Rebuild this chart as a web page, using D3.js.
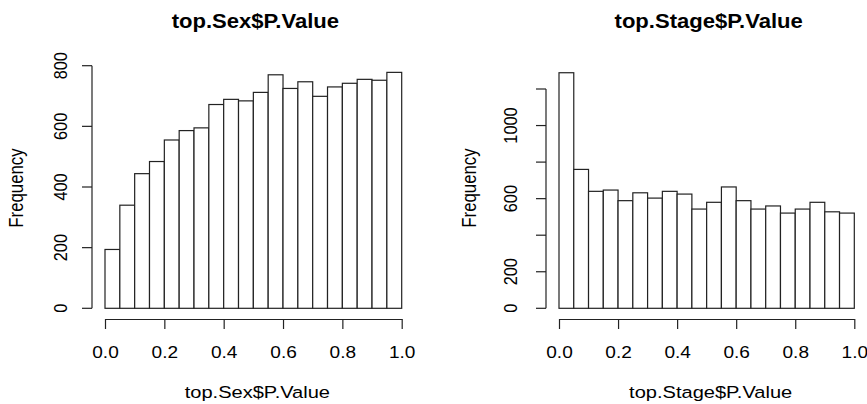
<!DOCTYPE html>
<html>
<head>
<meta charset="utf-8">
<script src="https://cdn.jsdelivr.net/npm/d3@7/dist/d3.min.js"></script>
<style>
  html, body { margin: 0; padding: 0; background: #fff; }
  svg { display: block; }
  text { font-family: "Liberation Sans", Arial, sans-serif; fill: #000; }
</style>
</head>
<body>
<svg id="chart" width="867" height="404"></svg>
<script>
// ---- data ----
const binEdges = [0.00,0.05,0.10,0.15,0.20,0.25,0.30,0.35,0.40,0.45,0.50,0.55,0.60,0.65,0.70,0.75,0.80,0.85,0.90,0.95,1.00];
const sexCounts = [194,340,444,484,555,586,595,672,689,684,712,770,725,747,699,730,742,755,752,778];
const stageCounts = [1289,760,640,647,589,632,603,640,625,543,580,664,589,543,560,521,543,580,528,521];
const xTickValues = [0.0,0.2,0.4,0.6,0.8,1.0];
const sexYTicks = [0,200,400,600,800];
const sexYLabels = ["0","200","400","600","800"];
const stageYTicks = [0,200,400,600,800,1000,1200];
const stageYLabels = ["0","200","","600","","1000",""];
const titles = ["top.Sex$P.Value","top.Stage$P.Value"];
const xLabels = ["top.Sex$P.Value","top.Stage$P.Value"];
const yLabel = "Frequency";

const panels = [
  { counts: sexCounts, ticks: sexYTicks, labels: sexYLabels, yMax: 800,
    xr: [105, 401.7], yr: [308.3, 65.7], axX: 92, tickLabX: 67, yLabX: 23, title: titles[0], xLab: xLabels[0] },
  { counts: stageCounts, ticks: stageYTicks, labels: stageYLabels, yMax: 1200,
    xr: [559, 854.3], yr: [308.3, 89], axX: 546, tickLabX: 517, yLabX: 476, title: titles[1], xLab: xLabels[1] }
];

const SX = 1.17; // horizontal stretch of the reference text
const svg = d3.select("#chart");

panels.forEach(p => {
  const g = svg.append("g");
  const x = d3.scaleLinear().domain([0, 1]).range(p.xr);
  const y = d3.scaleLinear().domain([0, p.yMax]).range(p.yr);

  // bars
  const bins = p.counts.map((c, i) => ({ x0: binEdges[i], x1: binEdges[i + 1], c }));
  g.selectAll("rect.bar").data(bins).enter().append("rect")
    .attr("class", "bar")
    .attr("x", d => x(d.x0))
    .attr("width", d => x(d.x1) - x(d.x0))
    .attr("y", d => y(d.c))
    .attr("height", d => y(0) - y(d.c))
    .attr("fill", "#fff")
    .attr("stroke", "#222")
    .attr("stroke-width", 1.2);

  // x axis
  const xa = g.append("g").attr("transform", "translate(0,319)")
    .call(d3.axisBottom(x).tickValues(xTickValues).tickSize(10).tickSizeOuter(0)
      .tickFormat(d3.format(".1f")));
  xa.select(".domain").attr("stroke", "#222").attr("stroke-width", 1.2);
  xa.selectAll(".tick line").attr("stroke", "#222").attr("stroke-width", 1.2);
  xa.selectAll(".tick text")
    .attr("y", null).attr("dy", null)
    .attr("font-size", 16.3)
    .attr("font-family", "Liberation Sans, Arial, sans-serif")
    .attr("fill", "#000")
    .attr("transform", `translate(0,39) scale(${SX},1)`);

  // y axis
  const ya = g.append("g");
  ya.append("line")
    .attr("x1", p.axX).attr("x2", p.axX)
    .attr("y1", y(p.ticks[0])).attr("y2", y(p.ticks[p.ticks.length - 1]))
    .attr("stroke", "#222").attr("stroke-width", 1.2);
  ya.selectAll("line.tk").data(p.ticks).enter().append("line")
    .attr("class", "tk")
    .attr("x1", p.axX - 10).attr("x2", p.axX)
    .attr("y1", d => y(d)).attr("y2", d => y(d))
    .attr("stroke", "#222").attr("stroke-width", 1.2);
  ya.selectAll("text").data(p.ticks.map((t, i) => ({ t, l: p.labels[i] })).filter(d => d.l !== ""))
    .enter().append("text")
    .attr("font-size", 16.3)
    .attr("text-anchor", "middle")
    .attr("transform", d => `translate(${p.tickLabX},${y(d.t)}) scale(${SX},1) rotate(-90)`)
    .text(d => d.l);

  // axis titles
  g.append("text")
    .attr("font-size", 17)
    .attr("text-anchor", "middle")
    .attr("transform", `translate(${(p.xr[0] + p.xr[1]) / 2 + 4},398) scale(1.18,1)`)
    .text(p.xLab);
  g.append("text")
    .attr("font-size", 16.8)
    .attr("text-anchor", "middle")
    .attr("transform", `translate(${p.yLabX},${(p.yr[0] + 65.7) / 2 + 1}) scale(${SX},1) rotate(-90)`)
    .text(yLabel);

  // main title
  g.append("text")
    .attr("font-size", 21)
    .attr("font-weight", "bold")
    .attr("text-anchor", "middle")
    .attr("transform", `translate(${(p.xr[0] + p.xr[1]) / 2 + 2},28) scale(1.05,1)`)
    .text(p.title);
});
</script>
</body>
</html>
